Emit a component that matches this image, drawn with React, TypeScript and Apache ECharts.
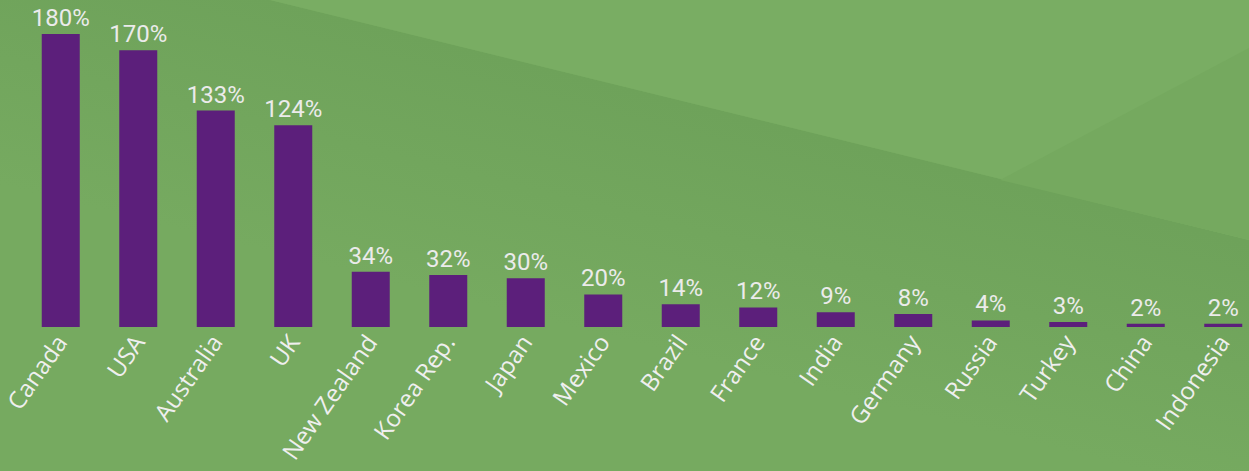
import React, { useEffect, useRef } from "react";
import * as echarts from "echarts";

const categories = ["Canada", "USA", "Australia", "UK", "New Zealand", "Korea Rep.", "Japan", "Mexico", "Brazil", "France", "India", "Germany", "Russia", "Turkey", "China", "Indonesia"];
const values = [180, 170, 133, 124, 34, 32, 30, 20, 14, 12, 9, 8, 4, 3, 2, 2];

export default function App() {
  const ref = useRef<HTMLDivElement>(null);
  useEffect(() => {
    const chart = echarts.init(ref.current!, undefined, { renderer: "svg" });
    chart.setOption({
      animation: false,
      backgroundColor: "#76aa60",
      graphic: [
        {
          type: "polygon", silent: true, z: -10,
          shape: { points: [[0, 0], [270, 0], [1249, 240], [1249, 471], [0, 471]] },
          style: {
            fill: new echarts.graphic.LinearGradient(760, 120, 700, 360, [
              { offset: 0, color: "#6ea25a" },
              { offset: 1, color: "#76aa60" },
            ], true),
          },
        },
        { type: "polygon", silent: true, z: -10, shape: { points: [[270, 0], [1262, 0], [1262, 243], [1249, 240]] }, style: { fill: "#79ad63" } },
        { type: "polygon", silent: true, z: -9, shape: { points: [[1262, 41], [1000, 180], [1262, 243]] }, style: { fill: "#75a95f" } },
      ],
      grid: { left: 22, right: 0, top: 34, bottom: 144 },
      xAxis: {
        type: "category",
        data: categories,
        axisLine: { show: false },
        axisTick: { show: false },
        axisLabel: { rotate: 55, color: "#efefef", fontSize: 24, fontFamily: "Open Sans", margin: 10, interval: 0 },
      },
      yAxis: { type: "value", min: 0, max: 180, show: false, splitLine: { show: false } },
      series: [
        {
          type: "bar",
          data: values,
          barWidth: 38,
          itemStyle: { color: "#5c1f7b" },
          label: { show: true, position: "top", formatter: "{c}%", color: "#ebebeb", fontSize: 24, fontFamily: "Roboto", distance: 4 },
        },
      ],
    });
    return () => chart.dispose();
  }, []);
  return (
    <div style={{ position: "absolute", left: 0, top: 0, width: 1249, height: 471, overflow: "hidden" }}>
      <div ref={ref} style={{ width: 1262, height: 471 }} />
    </div>
  );
}
